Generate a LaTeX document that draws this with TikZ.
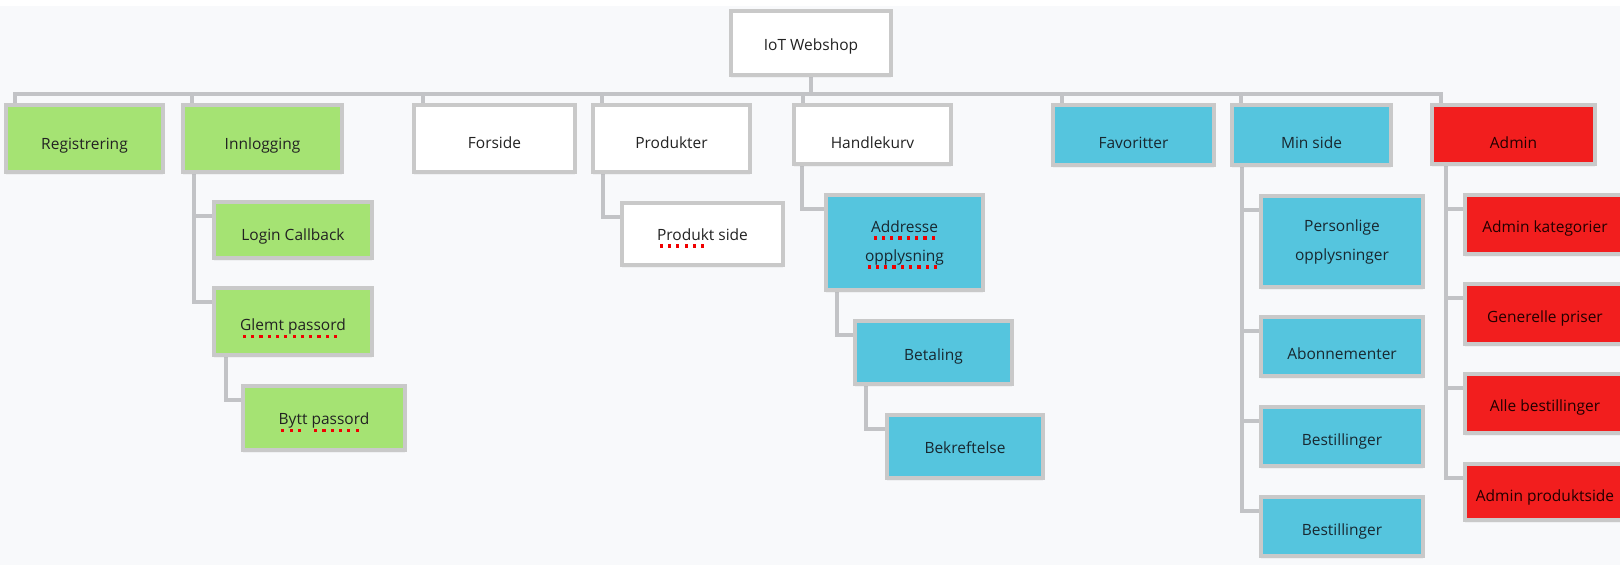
\documentclass[tikz,border=0pt]{standalone}
\usepackage{fontspec}
\setmainfont{Open Sans}
\usetikzlibrary{shadows}
\definecolor{bgc}{HTML}{F8F9FB}
\definecolor{bordergray}{HTML}{C9C9C9}
\definecolor{linegray}{HTML}{C2C3C6}
\definecolor{gfill}{HTML}{A5E373}
\definecolor{bfill}{HTML}{55C5DE}
\definecolor{rfill}{HTML}{F21E1E}
\definecolor{txt}{HTML}{222222}
\definecolor{btxt}{HTML}{182830}
\definecolor{rtxt}{HTML}{220000}
\definecolor{spell}{HTML}{F00000}
\pgfdeclarelayer{bg}
\pgfsetlayers{bg,main}
\newsavebox\spbox
\newcommand\sperr[1]{\sbox\spbox{#1}\rlap{\raisebox{-7.6pt}[0pt][0pt]{\color{spell}\hbox to\wd\spbox{\leaders\hbox to 8.3pt{\hss\rule{3.2pt}{3.2pt}\hss}\hfill}}}\usebox\spbox}
\begin{document}
\begin{tikzpicture}[x=1pt,y=-1pt,
  box/.style={draw=bordergray, line width=4pt, inner sep=0pt, align=center,
    font=\fontsize{15.5}{29}\selectfont,
    drop shadow={shadow xshift=0pt, shadow yshift=-3pt, opacity=0.07}},
  wbox/.style={box, fill=white, text=txt},
  gbox/.style={box, fill=gfill, text=txt},
  bbox/.style={box, fill=bfill, text=btxt},
  rbox/.style={box, fill=rfill, text=rtxt},
  sz/.style 2 args={minimum width=#1pt, minimum height=#2pt},
  tb/.style={text depth=4pt, text height=#1pt},
  conn/.style={draw=linegray, line width=3.5pt}]
\useasboundingbox (0,0) rectangle (1620,565);
\begin{pgfonlayer}{bg}
\fill[white] (0,0) rectangle (1620,565);
\fill[bgc] (0,6) rectangle (1620,565);
\end{pgfonlayer}

% root
\node[wbox, sz={160}{64}, tb=19.4] (root) at (811,43) {IoT Webshop};
% level 1
\node[gbox, sz={157}{67}, tb=25] (reg) at (84.5,138.5) {Registrering};
\node[gbox, sz={159}{67}, tb=25] (inn) at (262.5,138.5) {Innlogging};
\node[wbox, sz={161}{67}, tb=24] (for) at (494.5,138.5) {Forside};
\node[wbox, sz={157}{67}, tb=24] (prod) at (671.5,138.5) {Produkter};
\node[wbox, sz={157}{59}, tb=31] (hk) at (872.5,134.5) {Handlekurv};
\node[bbox, sz={161}{60}, tb=30] (fav) at (1133.5,135) {Favoritter};
\node[bbox, sz={159}{60}, tb=30.6] (min) at (1311.5,135) {Min side};
\node[rbox, sz={163}{59}, tb=31] (adm) at (1513.5,134.5) {Admin};
% Innlogging branch
\node[gbox, sz={158}{56}, tb=24] (lc) at (293,230) {Login Callback};
\node[gbox, sz={158}{67}, tb=22] (gp) at (293,321.5) {\sperr{Glemt passord}};
\node[gbox, sz={162}{64}, tb=16.6] (bp) at (324,418) {\sperr{Bytt} \sperr{passord}};
% Produkter branch
\node[wbox, sz={161}{62}, tb=16] (ps) at (702.5,234) {\sperr{Produkt} side};
% Handlekurv branch
\node[bbox, sz={157}{95}] (ao) at (904.5,242.5) {\sperr{Addresse}\\\sperr{opplysning}};
\node[bbox, sz={157}{63}, tb=19] (bet) at (933.5,352.5) {Betaling};
\node[bbox, sz={156}{63}, tb=18] (bek) at (965,446.5) {Bekreftelse};
% Min side branch
\node[bbox, sz={162}{91}] (po) at (1342,241.5) {Personlige\\opplysninger};
\node[bbox, sz={162}{59}, tb=29] (ab) at (1342,346.5) {Abonnementer};
\node[bbox, sz={162}{59}, tb=21] (b1) at (1342,436.5) {Bestillinger};
\node[bbox, sz={162}{59}, tb=21] (b2) at (1342,526.5) {Bestillinger};
% Admin branch
\node[rbox, sz={160}{59}, tb=20] (ak) at (1545,224.5) {Admin kategorier};
\node[rbox, sz={160}{60}, tb=20.6] (gpr) at (1545,314) {Generelle priser};
\node[rbox, sz={160}{59}, tb=20.4] (alle) at (1545,403.5) {Alle bestillinger};
\node[rbox, sz={160}{56}, tb=23.4] (apr) at (1545,492) {Admin produktside};

\begin{pgfonlayer}{bg}
\foreach \n in {reg,inn,for,prod,hk,fav,min,adm}
  \draw[conn] (root.south) -- ++(0,17) -| ([xshift=11pt]\n.north west);
\foreach \c in {lc,gp}
  \draw[conn] ([xshift=13pt]inn.south west) |- ([yshift=-16pt]\c.north west);
\draw[conn] ([xshift=14pt]gp.south west) |- ([yshift=-16pt]bp.north west);
\draw[conn] ([xshift=12pt]prod.south west) |- ([yshift=-16pt]ps.north west);
\draw[conn] ([xshift=10pt]hk.south west) |- ([yshift=-16pt]ao.north west);
\draw[conn] ([xshift=13pt]ao.south west) |- ([yshift=-16pt]bet.north west);
\draw[conn] ([xshift=13pt]bet.south west) |- ([yshift=-16pt]bek.north west);
\foreach \c in {po,ab,b1,b2}
  \draw[conn] ([xshift=12pt]min.south west) |- ([yshift=-16pt]\c.north west);
\foreach \c in {ak,gpr,alle,apr}
  \draw[conn] ([xshift=16pt]adm.south west) |- ([yshift=-16pt]\c.north west);
\end{pgfonlayer}
\end{tikzpicture}
\end{document}
